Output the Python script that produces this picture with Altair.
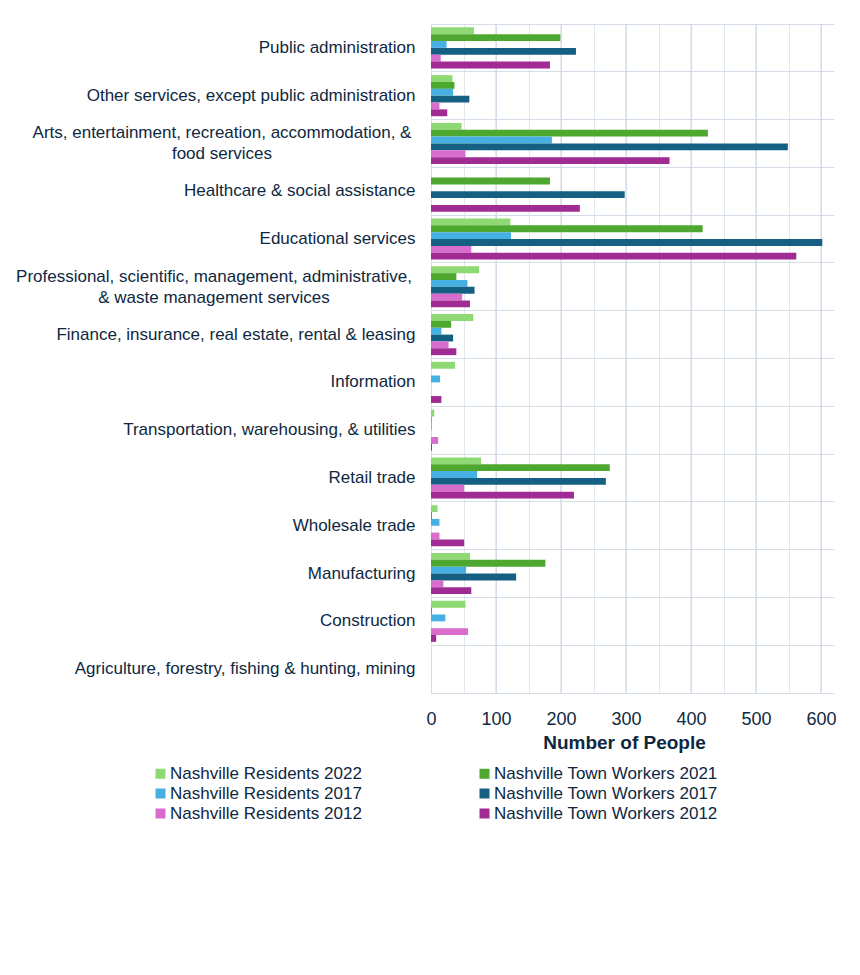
import altair as alt
import pandas as pd

categories = [
    "Public administration",
    "Other services, except public administration",
    "Arts, entertainment, recreation, accommodation, &\nfood services",
    "Healthcare & social assistance",
    "Educational services",
    "Professional, scientific, management, administrative,\n& waste management services",
    "Finance, insurance, real estate, rental & leasing",
    "Information",
    "Transportation, warehousing, & utilities",
    "Retail trade",
    "Wholesale trade",
    "Manufacturing",
    "Construction",
    "Agriculture, forestry, fishing & hunting, mining",
]

series = [
    "Nashville Residents 2022",
    "Nashville Town Workers 2021",
    "Nashville Residents 2017",
    "Nashville Town Workers 2017",
    "Nashville Residents 2012",
    "Nashville Town Workers 2012",
]

colors = ["#8ED973", "#4EA72E", "#45B0E1", "#156082", "#D86DCD", "#A02B93"]

# legend reads row by row: residents in the left column, town workers in the right
legend_order = [series[0], series[2], series[4], series[1], series[3], series[5]]
legend_colors = [colors[0], colors[2], colors[4], colors[1], colors[3], colors[5]]

residents_2022 = [66, 33, 47, 0, 122, 74, 65, 37, 5, 77, 10, 60, 53, 0]
town_workers_2021 = [199, 36, 426, 183, 418, 39, 31, 0, 1, 275, 1.5, 176, 1.5, 0]
residents_2017 = [24, 34, 186, 0, 123, 56, 16, 14, 1, 71, 13, 54, 22, 0]
town_workers_2017 = [223, 59, 549, 298, 602, 67, 34, 0, 0, 269, 0, 131, 0, 0]
residents_2012 = [15, 13, 53, 0, 62, 48, 27, 0, 11, 51, 13, 19, 57, 0]
town_workers_2012 = [183, 25, 367, 229, 562, 60, 39, 16, 1.5, 220, 51, 62, 8, 0]

values = [residents_2022, town_workers_2021, residents_2017,
          town_workers_2017, residents_2012, town_workers_2012]

rows = []
for s, vals in zip(series, values):
    for c, v in zip(categories, vals):
        rows.append({"Industry": c, "Series": s, "People": v})
df = pd.DataFrame(rows)

x_ticks = list(range(0, 601, 50))
major_ticks = list(range(100, 601, 100))

FONT = "Liberation Sans"
TEXT = "#0E2841"

y_scale = alt.Scale(domain=categories, paddingInner=0, paddingOuter=0)
x_scale = alt.Scale(domain=[0, 620], nice=False)

x_axis = alt.Axis(
    values=x_ticks,
    labelExpr="datum.value % 100 == 0 ? datum.label : ''",
    ticks=False,
    grid=True,
    gridColor="#E0E7EF",
    domainColor="#D5DEE8",
    labelFontSize=18,
    labelFont=FONT,
    labelColor=TEXT,
    labelPadding=17,
    labelFlush=False,
    titleFontSize=19,
    titleFont=FONT,
    titleFontWeight="bold",
    titleColor=TEXT,
    titlePadding=5,
    titleX=193,
)

major_grid = alt.Chart(pd.DataFrame({"tick": major_ticks})).mark_rule(
    color="#C9D4E1", strokeWidth=1
).encode(
    x=alt.X("tick:Q", scale=x_scale, axis=x_axis, title="Number of People"),
)

bars = alt.Chart(df).mark_bar().encode(
    y=alt.Y(
        "Industry:N",
        sort=categories,
        title=None,
        scale=y_scale,
        axis=alt.Axis(
            ticks=False,
            bandPosition=0,
            grid=True,
            gridColor="#D5DEE8",
            domainColor="#D5DEE8",
            labelFontSize=17,
            labelFont=FONT,
            labelColor=TEXT,
            labelLimit=500,
            labelPadding=16,
            labelExpr="indexof(datum.value, '\\n') >= 0 ? '' : datum.label",
        ),
    ),
    yOffset=alt.YOffset("Series:N", sort=series,
                        scale=alt.Scale(paddingInner=0, paddingOuter=0.49)),
    x=alt.X("People:Q", title="Number of People", scale=x_scale, axis=x_axis),
    color=alt.Color(
        "Series:N",
        scale=alt.Scale(domain=legend_order, range=legend_colors),
        legend=alt.Legend(
            title=None,
            orient="none",
            legendX=-279,
            legendY=741,
            columns=2,
            columnPadding=114,
            rowPadding=2,
            symbolType="square",
            symbolSize=100,
            symbolStrokeWidth=0,
            labelFontSize=17,
            labelFont=FONT,
            labelColor=TEXT,
            labelOffset=1,
            labelLimit=400,
        ),
    ),
)

label_df = pd.DataFrame({"Industry": [categories[2], categories[5]]})

arts_label = alt.Chart(label_df).transform_filter(
    "indexof(datum.Industry, 'Arts') == 0"
).mark_text(
    align="center", baseline="middle", lineBreak="\n", lineHeight=21,
    fontSize=17, font=FONT, color=TEXT, dy=-10,
).encode(
    y=alt.Y("Industry:N", scale=y_scale, sort=categories),
    x=alt.value(-209),
    text="Industry:N",
)

prof_label = alt.Chart(label_df).transform_filter(
    "indexof(datum.Industry, 'Professional') == 0"
).mark_text(
    align="center", baseline="middle", lineBreak="\n", lineHeight=21,
    fontSize=17, font=FONT, color=TEXT, dy=-10,
).encode(
    y=alt.Y("Industry:N", scale=y_scale, sort=categories),
    x=alt.value(-217),
    text="Industry:N",
)

chart = alt.layer(major_grid, bars, arts_label, prof_label).properties(
    width=403,
    height=669,
    autosize=alt.AutoSizeParams(type="none"),
    padding={"left": 423, "top": 16, "right": 10, "bottom": 250},
).configure_view(stroke=None)

chart.save("out.html", embed_options={"renderer": "svg", "actions": False})
